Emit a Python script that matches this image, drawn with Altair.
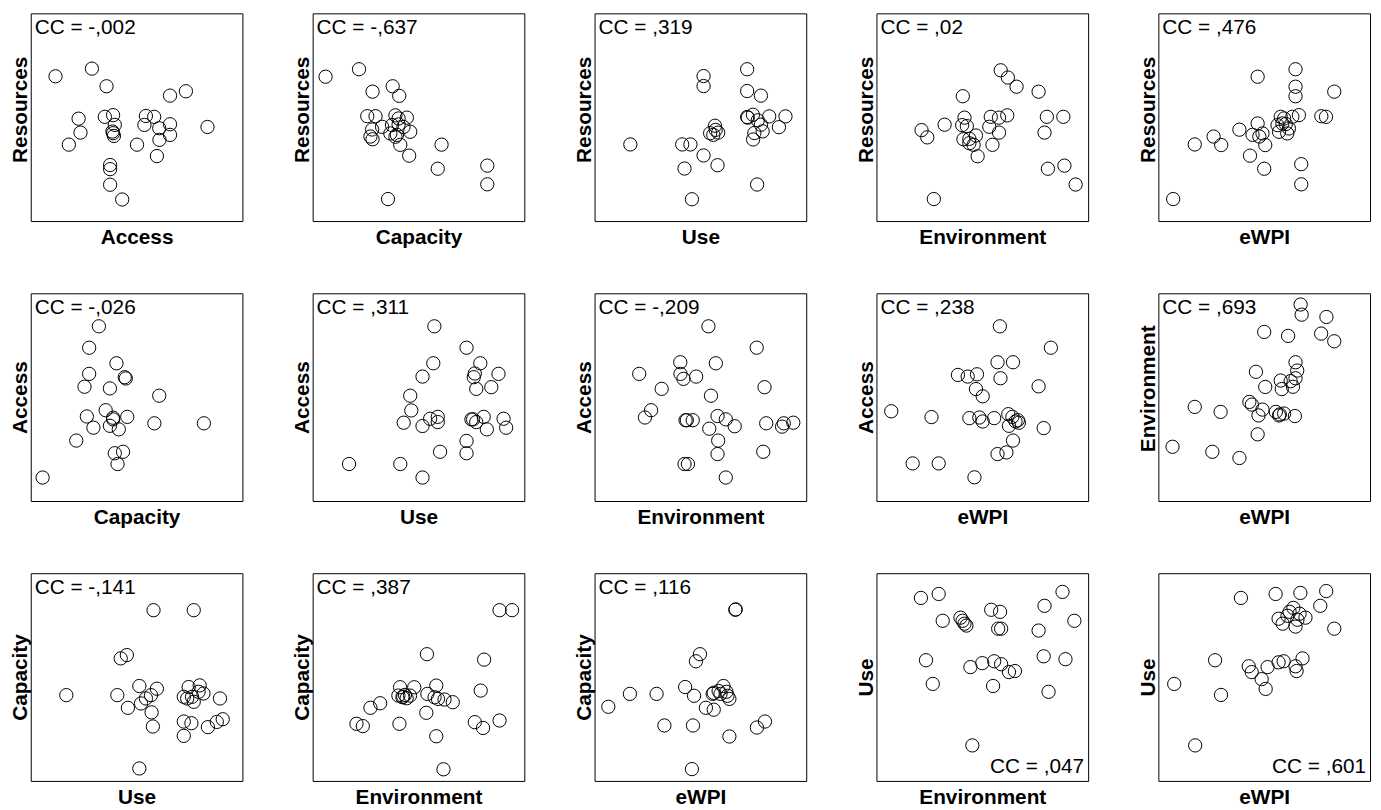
import altair as alt
import pandas as pd

FONT = "Liberation Sans, Arial, Helvetica, sans-serif"

# ---- Row 1: Resources vs ...
res_access_x = [11.7, 28.9, 35.8, 65.8, 73.3, 22.6, 23.5, 18.0, 35.0, 38.9, 39.7, 38.9, 39.3, 38.6,
                54.4, 58.3, 53.7, 60.7, 65.8, 65.8, 60.8, 50.2, 59.6, 83.5, 37.5, 37.5, 37.5, 43.2]
res_access_y = [69.7, 73.4, 64.9, 60.4, 62.5, 49.3, 42.6, 36.8, 50.2, 51.0, 46.3, 42.3, 41.0, 43.1,
                50.6, 50.2, 46.3, 44.7, 46.6, 41.5, 39.1, 36.8, 31.3, 45.3, 27.0, 25.0, 17.5, 10.4]

res_capacity_x = [6.1, 21.9, 28.3, 37.8, 40.9, 25.8, 29.7, 28.1, 27.3, 28.3, 32.8, 39.1, 40.6, 44.5,
                  37.5, 40.6, 42.9, 46.1, 39.8, 41.4, 45.6, 60.9, 59.1, 82.5, 82.5, 35.6, 39.1, 36.7]
res_capacity_y = [69.5, 73.1, 62.3, 64.9, 60.3, 50.5, 50.5, 44.1, 40.7, 39.4, 45.4, 50.9, 49.4, 49.8,
                  46.2, 46.5, 45.3, 43.0, 41.5, 36.7, 31.5, 36.8, 25.2, 26.7, 17.7, 10.6, 40.6, 42.2]

res_use_x = [16.9, 51.5, 51.5, 72.1, 72.1, 78.6, 41.4, 45.3, 51.5, 42.5, 58.1, 46.0, 76.8, 56.9, 54.6,
             56.1, 58.4, 57.2, 72.1, 74.8, 77.1, 78.6, 75.5, 79.4, 82.5, 87.1, 90.2, 74.9, 72.4]
res_use_y = [36.9, 69.8, 65.0, 73.1, 62.6, 60.4, 36.9, 36.9, 31.6, 25.3, 26.9, 10.5, 17.6, 45.9, 42.3,
             41.5, 42.6, 43.9, 50.1, 51.2, 48.5, 46.4, 42.4, 43.2, 50.4, 45.2, 50.4, 39.3, 49.8]

res_env_x = [27.1, 21.3, 24.0, 32.2, 40.8, 41.6, 40.5, 42.7, 41.1, 43.9, 47.0, 45.9, 47.8, 54.0, 53.3,
             54.8, 57.9, 61.8, 57.9, 58.7, 62.1, 66.2, 76.6, 80.5, 88.3, 79.4, 81.0, 88.8, 94.1, 43.9]
res_env_y = [10.6, 43.8, 40.3, 46.4, 60.1, 49.8, 46.2, 45.7, 39.4, 39.6, 41.2, 36.7, 31.2, 50.2, 45.4,
             36.7, 49.8, 50.9, 42.6, 72.6, 69.1, 64.7, 62.3, 50.2, 50.2, 42.6, 25.2, 26.7, 17.6, 37.5]

res_ewpi_x = [7.0, 17.2, 26.1, 29.7, 38.3, 46.9, 46.9, 44.5, 47.7, 49.2, 50.5, 43.3, 50.0, 57.8, 56.3, 59.4,
              57.0, 60.9, 63.3, 66.4, 61.7, 60.2, 64.8, 64.8, 64.8, 83.1, 77.0, 79.2, 67.5, 67.5, 58.6]
res_ewpi_y = [10.6, 36.9, 40.7, 36.6, 44.0, 69.5, 47.0, 41.5, 40.7, 42.2, 36.6, 31.5, 25.2, 50.2, 46.2, 49.4,
              43.0, 42.2, 50.2, 51.0, 44.6, 46.7, 73.1, 64.7, 60.1, 62.3, 50.5, 50.2, 27.4, 17.7, 47.0]

# ---- Row 2
acc_capacity_x = [32.2, 27.6, 40.5, 27.6, 25.4, 44.4, 44.9, 37.4, 60.7, 35.4, 26.5, 29.6, 38.9, 37.4,
                  41.6, 45.6, 58.4, 81.8, 21.5, 39.7, 43.6, 41.0, 5.6, 38.9]
acc_capacity_y = [84.1, 73.8, 66.3, 61.2, 55.0, 59.6, 59.0, 54.2, 50.7, 43.7, 40.7, 35.3, 40.1, 36.2,
                  34.5, 40.5, 37.4, 37.4, 29.1, 23.0, 23.7, 17.8, 11.3, 39.3]

acc_use_x = [57.5, 72.7, 57.0, 79.2, 76.6, 76.1, 77.3, 84.4, 87.8, 51.9, 46.1, 46.6, 43.0, 51.9, 55.5,
             59.1, 59.1, 75.0, 77.3, 80.8, 82.3, 90.2, 91.4, 72.7, 72.7, 60.2, 17.2, 41.4, 51.9, 75.8]
acc_use_y = [84.1, 73.8, 66.3, 66.3, 61.4, 59.6, 54.0, 54.8, 61.2, 59.9, 50.7, 43.6, 37.7, 36.1, 39.6,
             40.5, 38.0, 39.3, 38.0, 40.5, 34.5, 39.6, 35.3, 28.9, 23.0, 23.7, 17.8, 17.8, 11.3, 39.3]

acc_env_x = [53.8, 76.6, 40.5, 57.3, 21.1, 40.6, 42.0, 48.0, 31.7, 55.0, 80.3, 26.7, 23.8, 43.0, 46.4,
             58.1, 62.0, 66.2, 54.2, 58.4, 58.1, 44.1, 42.5, 62.0, 79.7, 81.1, 88.6, 89.4, 93.9, 43.6]
acc_env_y = [84.1, 73.8, 66.8, 66.3, 61.2, 61.2, 58.8, 59.9, 54.0, 50.7, 54.8, 43.7, 40.2, 38.9, 38.9,
             40.9, 39.3, 36.0, 34.8, 29.1, 22.6, 17.8, 17.8, 11.3, 23.7, 37.4, 35.8, 37.4, 37.7, 38.9]

acc_ewpi_x = [7.0, 26.0, 17.1, 29.4, 46.3, 38.5, 43.1, 47.5, 47.0, 50.2, 58.3, 57.2, 64.5, 58.6, 82.4,
              76.6, 43.9, 48.6, 50.2, 55.6, 62.3, 64.2, 65.7, 66.8, 62.6, 64.5, 61.4, 57.2, 79.0, 67.3]
acc_ewpi_y = [43.2, 40.4, 18.1, 18.1, 11.4, 60.7, 59.9, 61.0, 53.9, 50.4, 84.1, 66.8, 66.8, 59.1, 73.8,
              55.2, 39.9, 40.2, 38.3, 39.9, 41.8, 40.5, 38.3, 38.9, 36.2, 29.1, 23.4, 22.6, 35.1, 37.7]

env_ewpi_x = [6.7, 25.5, 38.3, 17.2, 29.4, 46.9, 43.0, 44.2, 49.2, 47.3, 55.5, 57.0, 59.4, 64.5, 46.1, 50.5,
              57.8, 58.3, 62.5, 63.6, 64.8, 65.6, 64.8, 50.0, 61.3, 67.2, 67.7, 79.4, 76.9, 83.1, 57.4]
env_ewpi_y = [26.1, 23.7, 20.7, 45.3, 42.9, 32.1, 47.7, 46.4, 44.0, 41.2, 42.9, 41.2, 42.1, 40.9, 62.2, 54.9,
              58.0, 53.9, 57.7, 55.0, 66.8, 62.8, 59.1, 81.4, 79.5, 94.6, 89.7, 88.6, 80.6, 76.9, 41.7]

# ---- Row 3
cap_use_x = [16.8, 58.0, 77.0, 42.5, 45.4, 40.9, 51.3, 45.9, 52.1, 54.4, 56.8, 59.6, 57.1, 57.7, 51.3,
             72.3, 74.6, 76.2, 77.0, 79.3, 79.8, 81.6, 73.9, 89.4, 72.3, 75.9, 72.3, 83.7, 87.9, 90.7]
cap_use_y = [41.3, 82.2, 82.2, 59.0, 60.6, 41.3, 45.7, 35.2, 37.3, 39.7, 41.3, 44.4, 33.0, 26.2, 6.0,
             40.5, 45.2, 40.5, 38.1, 42.9, 46.0, 42.1, 39.7, 39.7, 28.6, 27.8, 21.7, 25.9, 28.4, 29.7]

cap_env_x = [20.7, 23.7, 27.3, 31.9, 41.0, 41.3, 40.5, 42.4, 43.6, 44.4, 46.0, 48.0, 54.0, 53.7, 54.2,
             58.4, 57.6, 59.2, 62.3, 66.2, 58.4, 61.8, 76.6, 80.5, 88.3, 79.4, 81.0, 88.3, 94.2, 42.8]
cap_env_y = [27.5, 26.4, 35.2, 37.4, 27.5, 45.1, 41.1, 40.3, 41.4, 39.8, 41.1, 45.1, 61.0, 32.8, 41.9,
             45.9, 40.3, 39.5, 39.2, 37.9, 21.5, 5.6, 28.3, 25.5, 29.1, 43.5, 58.4, 82.2, 82.2, 40.6]

cap_ewpi_x = [6.5, 16.7, 29.3, 42.8, 47.0, 33.0, 46.5, 55.8, 56.3, 47.9, 49.8, 58.6, 60.9, 62.3, 62.8,
              63.7, 59.5, 52.6, 56.3, 63.7, 76.7, 80.5, 46.0, 66.5, 66.7]
cap_ewpi_y = [35.7, 41.9, 41.9, 45.2, 41.0, 26.7, 26.7, 41.9, 42.4, 57.6, 61.0, 43.3, 45.7, 42.9, 41.0,
              39.5, 41.9, 35.2, 34.3, 21.4, 25.7, 28.6, 5.7, 82.4, 82.6]

use_env_x = [21.0, 29.4, 31.3, 39.7, 40.7, 41.6, 42.5, 54.2, 58.4, 57.5, 58.9, 76.6, 79.4, 87.9, 93.5,
             23.4, 26.6, 44.4, 50.0, 55.6, 58.9, 55.1, 65.4, 62.6, 79.0, 89.3, 81.3, 45.3]
use_env_y = [88.1, 90.0, 77.1, 78.6, 77.1, 75.7, 74.8, 82.4, 81.4, 73.3, 73.3, 72.4, 84.3, 91.0, 77.1,
             58.1, 46.7, 54.8, 56.7, 57.6, 56.2, 45.7, 52.9, 52.4, 60.0, 58.6, 42.9, 17.1]

use_ewpi_x = [7.5, 17.4, 26.8, 29.6, 39.0, 42.7, 44.1, 48.8, 50.7, 55.4, 56.8, 58.7, 61.0, 62.0, 63.8,
              64.8, 65.7, 66.7, 69.5, 59.2, 56.8, 64.8, 68.1, 65.3, 67.1, 76.5, 79.3, 83.1, 51.6]
use_ewpi_y = [46.7, 17.1, 58.1, 41.4, 88.1, 55.2, 52.4, 49.0, 44.3, 90.0, 78.1, 75.7, 79.5, 81.4, 83.3,
              74.3, 77.6, 80.5, 78.6, 57.6, 57.1, 55.2, 59.0, 52.9, 90.5, 84.3, 91.4, 73.3, 54.8]

panels = [
    [(res_access_x, res_access_y, "Access", "Resources", "CC = -,002", "top"),
     (res_capacity_x, res_capacity_y, "Capacity", "Resources", "CC = -,637", "top"),
     (res_use_x, res_use_y, "Use", "Resources", "CC = ,319", "top"),
     (res_env_x, res_env_y, "Environment", "Resources", "CC = ,02", "top"),
     (res_ewpi_x, res_ewpi_y, "eWPI", "Resources", "CC = ,476", "top")],
    [(acc_capacity_x, acc_capacity_y, "Capacity", "Access", "CC = -,026", "top"),
     (acc_use_x, acc_use_y, "Use", "Access", "CC = ,311", "top"),
     (acc_env_x, acc_env_y, "Environment", "Access", "CC = -,209", "top"),
     (acc_ewpi_x, acc_ewpi_y, "eWPI", "Access", "CC = ,238", "top"),
     (env_ewpi_x, env_ewpi_y, "eWPI", "Environment", "CC = ,693", "top")],
    [(cap_use_x, cap_use_y, "Use", "Capacity", "CC = -,141", "top"),
     (cap_env_x, cap_env_y, "Environment", "Capacity", "CC = ,387", "top"),
     (cap_ewpi_x, cap_ewpi_y, "eWPI", "Capacity", "CC = ,116", "top"),
     (use_env_x, use_env_y, "Environment", "Use", "CC = ,047", "bottom"),
     (use_ewpi_x, use_ewpi_y, "eWPI", "Use", "CC = ,601", "bottom")],
]

W, H = 214, 210
FS = 21
# long y titles sit a little above the panel centre in the reference
YTITLE_CENTER = {"Resources": 97, "Environment": 96}


def panel(xs, ys, xt, yt, cc, pos):
    df = pd.DataFrame({"x": xs, "y": ys})
    sc = alt.Scale(domain=[0, 100], nice=False, zero=False)
    yaxis_kw = dict(title=yt, labels=False, ticks=False, domain=False, grid=False, titlePadding=0)
    if yt in YTITLE_CENTER:
        yaxis_kw["titleY"] = YTITLE_CENTER[yt]
    pts = alt.Chart(df).mark_point(
        shape="circle", filled=False, color="black", size=180, strokeWidth=1, opacity=1
    ).encode(
        x=alt.X("x:Q", scale=sc, axis=alt.Axis(title=xt, labels=False, ticks=False, domain=False,
                                               grid=False, titlePadding=6)),
        y=alt.Y("y:Q", scale=sc, axis=alt.Axis(**yaxis_kw)),
    )
    if pos == "top":
        txt = alt.Chart(pd.DataFrame({"t": [cc]})).mark_text(
            align="left", baseline="alphabetic", fontSize=FS, font=FONT, color="black"
        ).encode(text="t:N", x=alt.value(4), y=alt.value(21))
    else:
        txt = alt.Chart(pd.DataFrame({"t": [cc]})).mark_text(
            align="right", baseline="alphabetic", fontSize=FS, font=FONT, color="black"
        ).encode(text="t:N", x=alt.value(W - 4), y=alt.value(H - 8))
    return alt.layer(pts, txt).properties(width=W, height=H)


rows = [alt.hconcat(*[panel(*p) for p in row], spacing=48) for row in panels]
chart = alt.vconcat(*rows, spacing=44).properties(
    padding={"left": 1, "top": 0, "right": 2, "bottom": 0}
).configure_view(
    stroke="black", strokeWidth=1
).configure_axis(
    titleFont=FONT, titleFontSize=FS, titleFontWeight="bold", titleColor="black"
)

chart.save("out.html", embed_options={"renderer": "svg", "actions": False})
